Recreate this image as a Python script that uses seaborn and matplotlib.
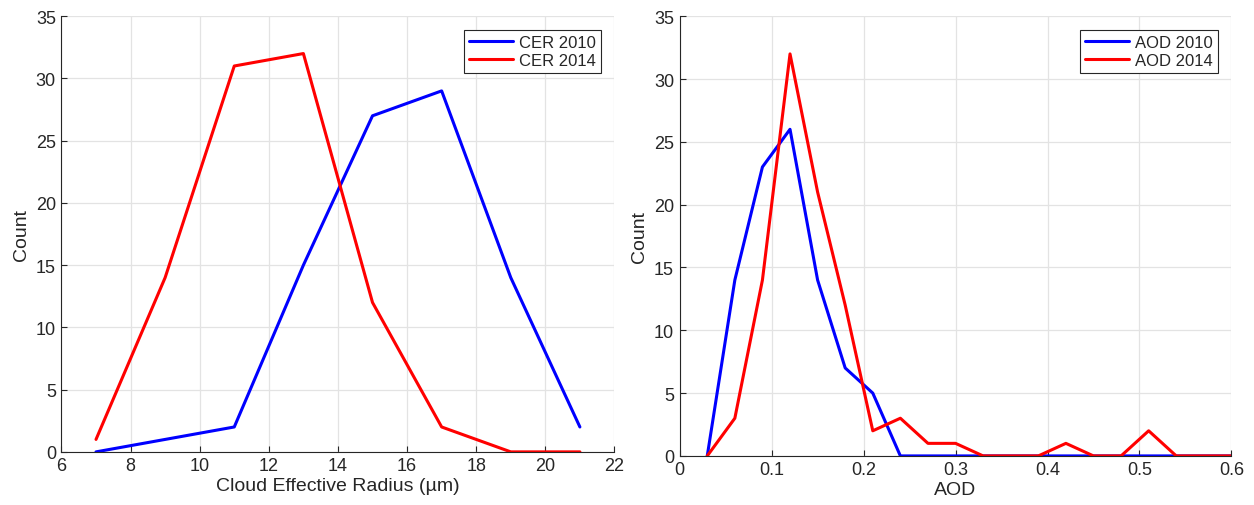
import numpy as np
import pandas as pd
import matplotlib
matplotlib.use("Agg")
import matplotlib.pyplot as plt
import seaborn as sns

cer_x = [7, 9, 11, 13, 15, 17, 19, 21]
cer_2010 = [0, 1, 2, 15, 27, 29, 14, 2]
cer_2014 = [1, 14, 31, 32, 12, 2, 0, 0]

aod_x = [0.03, 0.06, 0.09, 0.12, 0.15, 0.18, 0.21, 0.24, 0.27, 0.30,
         0.33, 0.36, 0.39, 0.42, 0.45, 0.48, 0.51, 0.54, 0.57, 0.60]
aod_2010 = [0, 14, 23, 26, 14, 7, 5, 0, 0, 0, 0, 0, 0, 0, 0, 0, 0, 0, 0, 0]
aod_2014 = [0, 3, 14, 32, 21, 12, 2, 3, 1, 1, 0, 0, 0, 1, 0, 0, 2, 0, 0, 0]

sns.set_theme(style="whitegrid")
plt.rcParams['font.family'] = ['Liberation Sans', 'DejaVu Sans']

cer_df = pd.DataFrame({
    "x": cer_x * 2,
    "Count": cer_2010 + cer_2014,
    "series": ["CER 2010"] * len(cer_x) + ["CER 2014"] * len(cer_x),
})
aod_df = pd.DataFrame({
    "x": aod_x * 2,
    "Count": aod_2010 + aod_2014,
    "series": ["AOD 2010"] * len(aod_x) + ["AOD 2014"] * len(aod_x),
})

fig = plt.figure(figsize=(12.54, 5.06), dpi=100)
ax1 = fig.add_axes([0.049, 0.105, 0.441, 0.861])
ax2 = fig.add_axes([0.542, 0.097, 0.440, 0.869])

def style(ax, xlabel, xlim, xticks, xfmt):
    ax.set_ylim(0, 35)
    ax.set_yticks(range(0, 36, 5))
    ax.set_xlim(*xlim)
    ax.set_xticks(xticks)
    ax.set_xticklabels([xfmt(t) for t in xticks])
    ax.set_xlabel(xlabel, fontsize=14, color="#262626", labelpad=2)
    ax.set_ylabel("Count", fontsize=14, color="#262626", labelpad=4)
    ax.grid(True, color="#e3e3e3", linewidth=0.9)
    ax.set_facecolor("white")
    for s in ["top", "right"]:
        ax.spines[s].set_visible(False)
    for s in ["left", "bottom"]:
        ax.spines[s].set_visible(True)
        ax.spines[s].set_color("#262626")
        ax.spines[s].set_linewidth(0.8)
    ax.tick_params(axis="both", direction="in", length=4, width=0.8,
                   colors="#262626", labelsize=13, pad=4,
                   bottom=True, left=True)
    leg = ax.legend(loc="upper right", fontsize=12, frameon=True,
                    fancybox=False, edgecolor="#262626", framealpha=1,
                    borderpad=0.3, handlelength=2.6, labelspacing=0.2,
                    handletextpad=0.4, borderaxespad=0.8)
    leg.get_frame().set_linewidth(0.8)
    for line in leg.get_lines():
        line.set_linewidth(2.2)

sns.lineplot(data=cer_df, x="x", y="Count", hue="series",
             palette=["#0000ff", "#ff0000"], linewidth=2.2, ax=ax1)
style(ax1, "Cloud Effective Radius (µm)", (6, 22), list(range(6, 23, 2)),
      lambda t: f"{t:d}")

sns.lineplot(data=aod_df, x="x", y="Count", hue="series",
             palette=["#0000ff", "#ff0000"], linewidth=2.2, ax=ax2)
style(ax2, "AOD", (0, 0.6), [0, 0.1, 0.2, 0.3, 0.4, 0.5, 0.6],
      lambda t: "0" if t == 0 else f"{t:.1f}")

fig.savefig("out.png", dpi=100)
